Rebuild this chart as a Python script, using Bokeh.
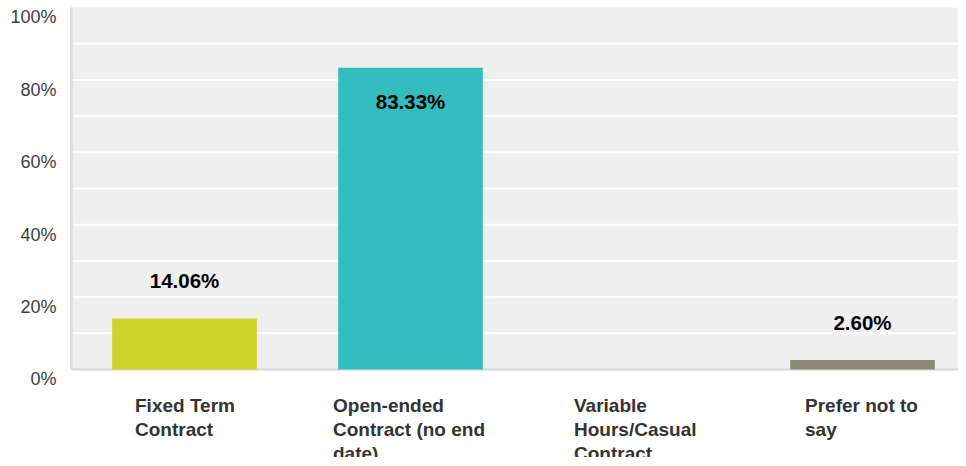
from bokeh.plotting import figure
from bokeh.models import Range1d, Label, BoxAnnotation
from bokeh.embed import file_html
from bokeh.resources import INLINE

# ---- data ----
CATEGORIES = ["Fixed Term Contract", "Open-ended Contract (no end date)",
              "Variable Hours/Casual Contract", "Prefer not to say"]
CATEGORY_LINES = [["Fixed Term", "Contract"],
                  ["Open-ended", "Contract (no end", "date)"],
                  ["Variable", "Hours/Casual", "Contract"],
                  ["Prefer not to", "say"]]
VALUES = [14.06, 83.33, 0.0, 2.60]
VALUE_LABELS = ["14.06%", "83.33%", "0.00%", "2.60%"]
COLORS = ["#cfd42a", "#34bdbf", "#a3b1b8", "#8a8a78"]
Y_TICKS = [0, 20, 40, 60, 80, 100]
Y_TICK_LABELS = ["0%", "20%", "40%", "60%", "80%", "100%"]
GRID_TICKS = [10, 20, 30, 40, 50, 60, 70, 80, 90]

# ---- styles / layout ----
FONT = "Liberation Sans"
PLOT_LEFT = -0.5              # left edge of the grey plotting area (x units)
PLOT_TOP = 100                # top edge of the grey plotting area (y units)
X_VIEW = (-0.8142, 3.4248)    # visible x extent incl. left margin for tick labels
Y_VIEW = (-24.31, 101.93)     # visible y extent incl. bottom margin for category labels
LABEL_SHIFT = [-49.5, -77.5, -62.5, -57.5]   # left edge of each wrapped label block, px from centre

idx = list(range(len(CATEGORIES)))

p = figure(width=958, height=457, output_backend="svg", toolbar_location=None,
           x_range=Range1d(*X_VIEW), y_range=Range1d(*Y_VIEW),
           min_border_left=0, min_border_right=0, min_border_top=0, min_border_bottom=0)
p.axis.visible = False
p.grid.visible = False
p.background_fill_color = "white"
p.border_fill_color = "white"
p.outline_line_color = None

# grey plotting area
p.add_layout(BoxAnnotation(left=PLOT_LEFT, bottom=0, top=PLOT_TOP, fill_color="#efefef",
                           fill_alpha=1, line_color=None, level="underlay"))

# horizontal gridlines
p.segment(x0=PLOT_LEFT, x1=X_VIEW[1], y0=GRID_TICKS, y1=GRID_TICKS,
          line_color="white", line_width=2)

# left border and bottom axis line
p.segment(x0=[PLOT_LEFT], x1=[PLOT_LEFT], y0=[0], y1=[PLOT_TOP],
          line_color="#e0e0e0", line_width=3)
p.segment(x0=[PLOT_LEFT], x1=[X_VIEW[1]], y0=[0], y1=[0],
          line_color="#d6d6d6", line_width=2)

# bars
p.vbar(x=idx, top=VALUES, width=0.64, color=COLORS, line_color=None)

# value labels (skip zero values); above short bars, inside tall ones
for i, v, t in zip(idx, VALUES, VALUE_LABELS):
    if v > 0:
        p.add_layout(Label(x=i, y=v, text=t, y_offset=(-34 if v > 50 else 38),
                           text_align="center", text_baseline="middle",
                           text_font=FONT, text_font_size="20.5px", text_font_style="bold",
                           text_color="black"))

# y tick labels (drawn slightly below their gridline, as in the reference)
for t, s in zip(Y_TICKS, Y_TICK_LABELS):
    p.add_layout(Label(x=PLOT_LEFT, y=t, text=s, x_offset=-15, y_offset=-10,
                       text_align="right", text_baseline="middle",
                       text_font=FONT, text_font_size="18px", text_color="#404040"))

# category labels: wrapped, left-aligned lines within a centred block
for i, lines, sh in zip(idx, CATEGORY_LINES, LABEL_SHIFT):
    p.add_layout(Label(x=i, y=0, text="\n".join(lines), x_offset=sh, y_offset=-26,
                       text_align="left", text_baseline="top", text_line_height=1.12,
                       text_font=FONT, text_font_size="19px", text_font_style="bold",
                       text_color="#333333"))

open("out.html", "w").write(file_html(p, INLINE))
